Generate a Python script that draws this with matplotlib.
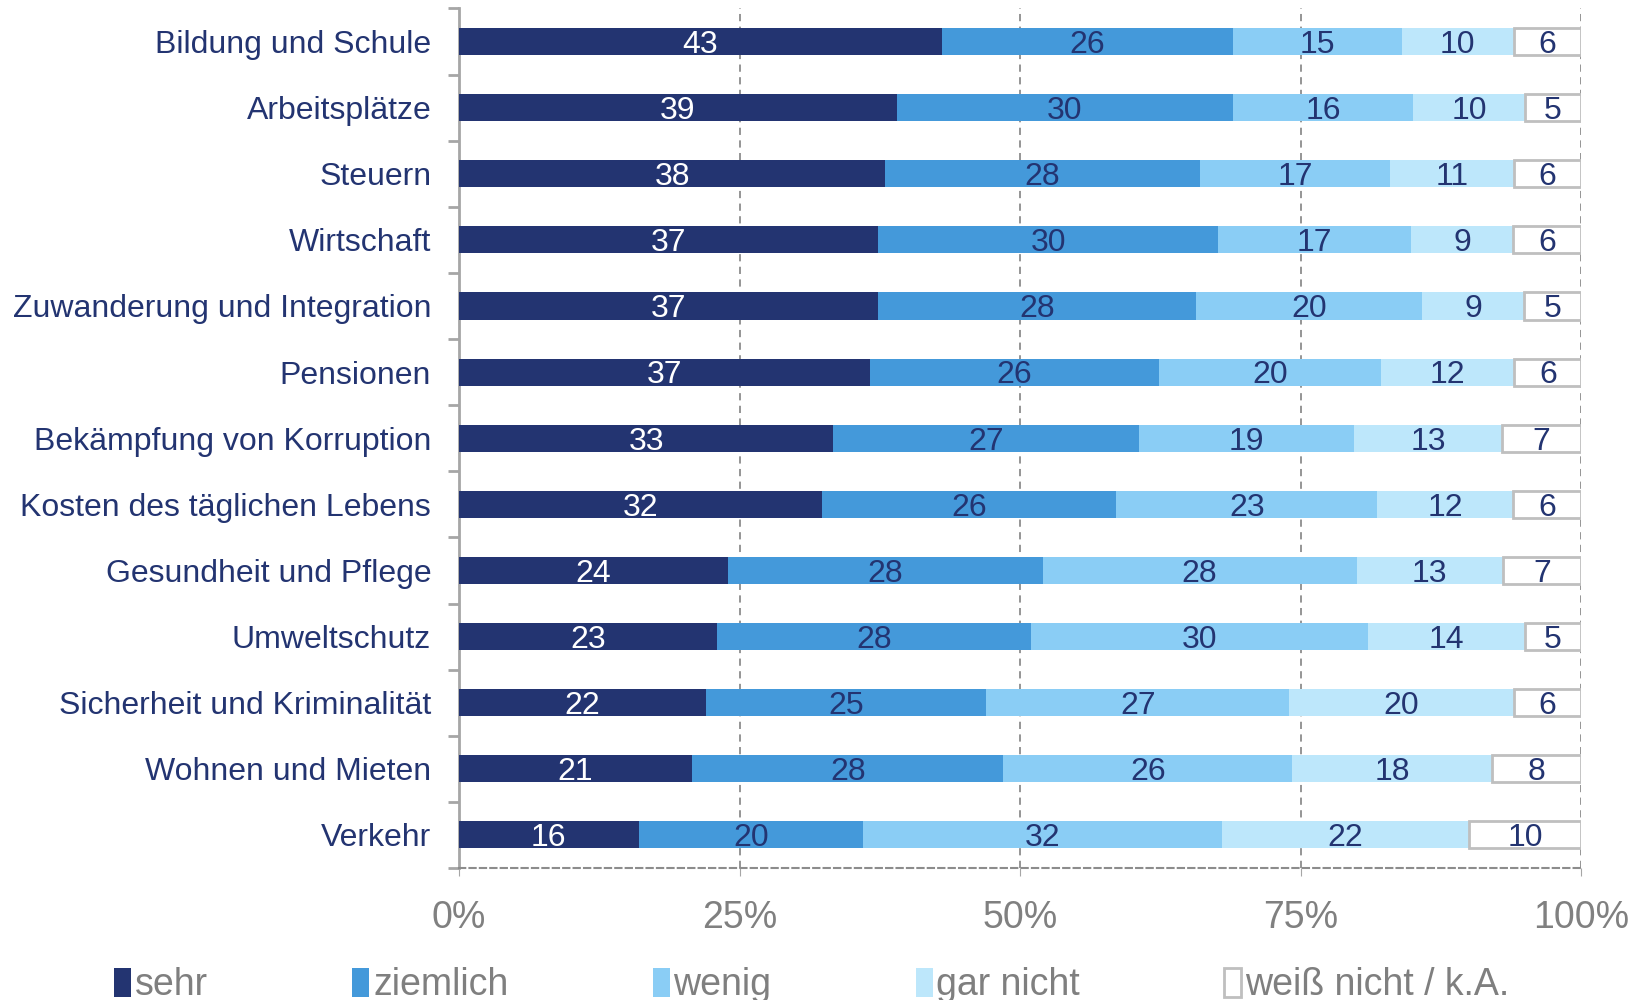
import numpy as np
import matplotlib
matplotlib.use("Agg")
import matplotlib.pyplot as plt
from matplotlib.patches import Patch

plt.rcParams["font.family"] = ["Liberation Sans", "DejaVu Sans"]

# Data (percent)
categories = ["Bildung und Schule", "Arbeitsplätze", "Steuern", "Wirtschaft",
              "Zuwanderung und Integration", "Pensionen", "Bekämpfung von Korruption",
              "Kosten des täglichen Lebens", "Gesundheit und Pflege", "Umweltschutz",
              "Sicherheit und Kriminalität", "Wohnen und Mieten", "Verkehr"]
sehr = [43, 39, 38, 37, 37, 37, 33, 32, 24, 23, 22, 21, 16]
ziemlich = [26, 30, 28, 30, 28, 26, 27, 26, 28, 28, 25, 28, 20]
wenig = [15, 16, 17, 17, 20, 20, 19, 23, 28, 30, 27, 26, 32]
gar_nicht = [10, 10, 11, 9, 9, 12, 13, 12, 13, 14, 20, 18, 22]
weiss_nicht = [6, 5, 6, 6, 5, 6, 7, 6, 7, 5, 6, 8, 10]
series_names = ["sehr", "ziemlich", "wenig", "gar nicht", "weiß nicht / k.A."]
x_ticklabels = ["0%", "25%", "50%", "75%", "100%"]

NAVY = "#233471"
colors = [NAVY, "#4499DA", "#8ACDF5", "#BDE7FB", "white"]
text_colors = ["white", NAVY, NAVY, NAVY, NAVY]

data = np.array([sehr, ziemlich, wenig, gar_nicht, weiss_nicht], dtype=float)
shares = data / data.sum(axis=0) * 100

fig = plt.figure(figsize=(16.47, 10), dpi=100)
ax = fig.add_axes([0.2787, 0.132, 0.6813, 0.8596])

y = np.arange(len(categories))
left = np.zeros(len(categories))
for i, name in enumerate(series_names):
    edge = "#BFBFBF" if i == 4 else "none"
    ax.barh(y, shares[i], left=left, height=0.41, color=colors[i],
            edgecolor=edge, linewidth=2 if i == 4 else 0, zorder=3, label=name)
    for j in range(len(categories)):
        ax.text(left[j] + shares[i][j] / 2, y[j] + 0.05, f"{int(data[i][j])}",
                ha="center", va="center", fontsize=23, color=text_colors[i], zorder=4)
    left += shares[i]

ax.set_xlim(0, 100)
ax.set_ylim(len(categories) - 0.5, -0.5)

ax.set_yticks(y)
ax.set_yticklabels(categories, fontsize=23, color=NAVY)
ax.tick_params(axis="y", length=0, pad=20)
ax.set_yticks(np.arange(-0.5, len(categories), 1), minor=True)
ax.tick_params(axis="y", which="minor", length=8, color="#A6A6A6", width=2)

ax.set_xticks([0, 25, 50, 75, 100])
ax.set_xticklabels(x_ticklabels, fontsize=27, color="#808080")
ax.tick_params(axis="x", length=6, color="#A6A6A6", pad=17)

ax.grid(axis="x", color="#8C8C8C", linestyle=(0, (4, 3)), linewidth=1.3, zorder=1)

for s in ["top", "right"]:
    ax.spines[s].set_visible(False)
ax.spines["left"].set_color("#A6A6A6")
ax.spines["left"].set_linewidth(2)
ax.spines["bottom"].set_color("#8C8C8C")
ax.spines["bottom"].set_linestyle((0, (3, 2)))
ax.spines["bottom"].set_linewidth(1.5)

handles = [Patch(facecolor=colors[i], edgecolor="#BFBFBF" if i == 4 else colors[i],
                 linewidth=2 if i == 4 else 0) for i in range(5)]
leg = fig.legend(handles, series_names, loc="lower left", bbox_to_anchor=(0.049, -0.037),
                 ncol=5, frameon=False, fontsize=27, handlelength=0.45, handleheight=0.8,
                 handletextpad=0.1, columnspacing=3.85)
for t in leg.get_texts():
    t.set_color("#7F7F7F")

fig.savefig("out.png", dpi=100)
